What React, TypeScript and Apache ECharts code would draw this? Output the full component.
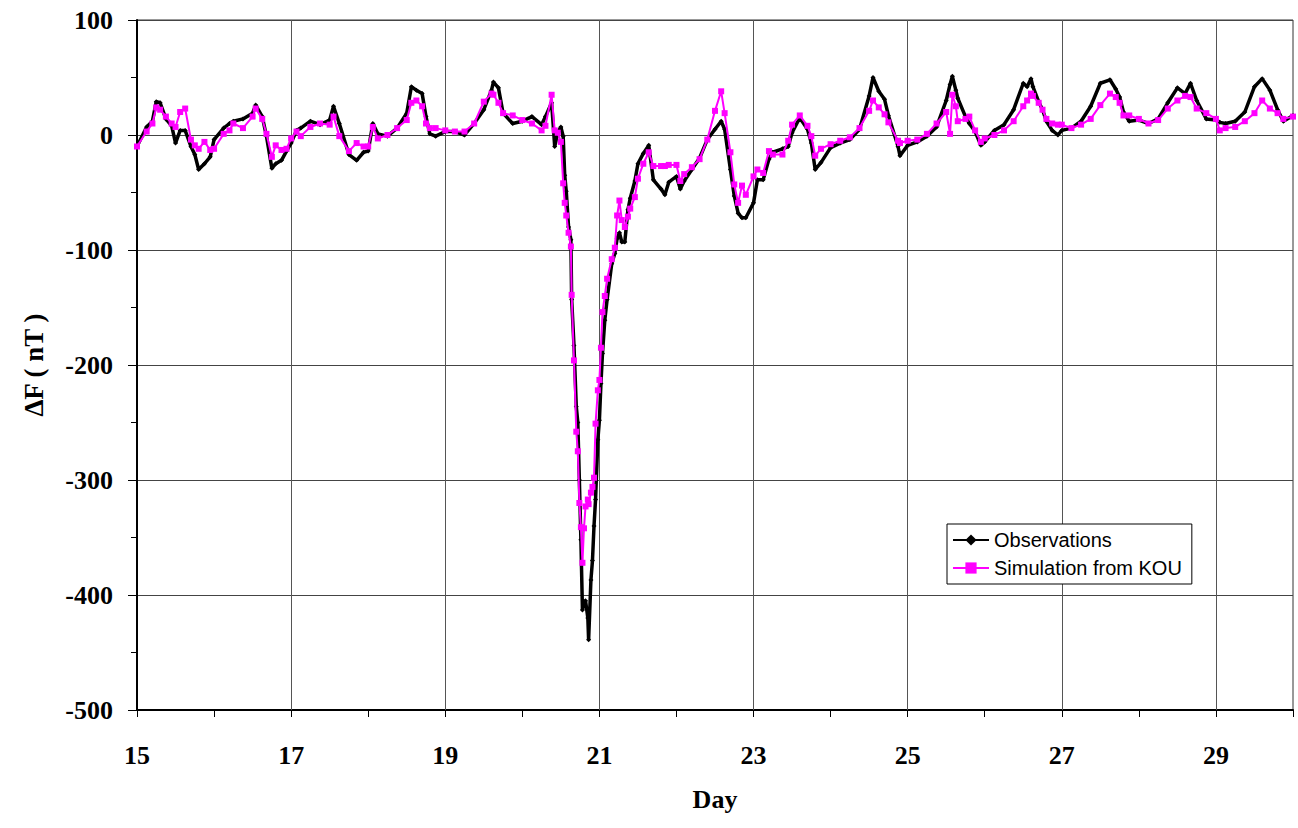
import React, { useEffect, useRef } from "react";
import * as echarts from "echarts";

// Day of month (sampling points)
const days = [
  15.0, 15.125, 15.2, 15.25, 15.3, 15.375, 15.45, 15.5, 15.56, 15.625, 15.7, 15.75, 15.8, 15.875, 15.95,
  16.0, 16.125, 16.2, 16.25, 16.375, 16.5, 16.54, 16.625, 16.68, 16.75, 16.8, 16.875, 16.94, 17.0,
  17.07, 17.125, 17.25, 17.375, 17.5, 17.55, 17.625, 17.75, 17.85, 17.94, 18.0, 18.06, 18.125, 18.25,
  18.375, 18.5, 18.56, 18.625, 18.7, 18.75, 18.8, 18.875, 19.0,
  19.125, 19.25, 19.375, 19.5, 19.6, 19.625, 19.69, 19.75, 19.875, 20.0, 20.125, 20.25, 20.3, 20.38,
  20.42, 20.46, 20.5, 20.53, 20.55, 20.57, 20.6, 20.63, 20.64, 20.67, 20.7, 20.72, 20.74, 20.76, 20.78,
  20.8, 20.82, 20.85, 20.86, 20.89, 20.91, 20.93, 20.95, 20.98, 21.0,
  21.02, 21.04, 21.07, 21.1, 21.16, 21.2, 21.23, 21.26, 21.29, 21.33, 21.37, 21.4, 21.46, 21.5, 21.57,
  21.64, 21.7, 21.8, 21.85, 21.9, 22.0, 22.05, 22.1, 22.2, 22.3, 22.4, 22.5, 22.58, 22.625, 22.7, 22.75,
  22.8, 22.85, 22.9, 23.0,
  23.05, 23.125, 23.2, 23.25, 23.375, 23.45, 23.5, 23.6, 23.7, 23.75, 23.8, 23.875, 24.0, 24.125, 24.25,
  24.375, 24.5, 24.55, 24.625, 24.7, 24.75, 24.875, 24.9, 25.0, 25.125, 25.25, 25.375, 25.5, 25.55, 25.58,
  25.625, 25.65, 25.75, 25.8, 25.875, 25.95, 26.0,
  26.125, 26.25, 26.375, 26.5, 26.55, 26.6, 26.625, 26.7, 26.75, 26.8, 26.875, 26.95, 27.0, 27.125, 27.25,
  27.375, 27.5, 27.625, 27.7, 27.75, 27.8, 27.875, 28.0, 28.125, 28.25, 28.375, 28.5, 28.6, 28.67, 28.75,
  28.875, 29.0, 29.05, 29.125, 29.25, 29.375, 29.5, 29.6, 29.7, 29.8, 29.875, 30.0,
];

// Observed ΔF (nT)
const observed = [
  -10, 7, 12, 29, 28, 14, 8, -7, 4, 4, -10, -17, -30, -25, -19,
  -4, 6, 10, 12, 14, 19, 26, 16, -1, -29, -25, -22, -14, -7,
  4, 6, 12, 9, 13, 25, 10, -17, -22, -15, -14, 10, 1, -1,
  6, 19, 42, 39, 36, 16, 1, -1, 3,
  3, 0, 10, 22, 39, 46, 41, 19, 10, 12, 16, 9, 16, 28,
  -10, 2, 7, -1, -35, -49, -80, -91, -143, -183, -236, -250, -300, -352, -413,
  -406, -405, -420, -439, -387, -370, -340, -317, -265, -248,
  -216, -190, -161, -143, -112, -103, -90, -85, -93, -93, -65, -55, -40, -25, -16,
  -9, -39, -47, -52, -41, -36, -47, -40, -30, -20, -4, 5, 12, 5, -30, -53,
  -68, -72, -72, -59,
  -39, -39, -21, -15, -12, -10, 2, 15, 5, -7, -30, -24, -11, -7, -4,
  5, 34, 50, 38, 31, 17, -10, -18, -9, -6, -1, 7, 30, 44, 51,
  39, 32, 16, 10, 3, -9, -6,
  4, 9, 22, 45, 42, 49, 42, 29, 22, 12, 4, 0, 4, 6, 12,
  25, 45, 48, 40, 33, 20, 12, 13, 10, 14, 28, 41, 36, 45, 30,
  14, 13, 11, 10, 12, 20, 42, 49, 39, 22, 12, 17,
];

// Simulated ΔF from KOU (nT)
const simulated = [
  -10, 3, 10, 24, 22, 16, 10, 7, 20, 23, -4, -9, -12, -6, -13,
  -12, 1, 4, 10, 6, 16, 23, 14, 1, -19, -9, -13, -12, -3,
  3, -1, 7, 10, 9, 16, -1, -14, -7, -10, -10, 7, -3, 0,
  6, 13, 28, 30, 25, 10, 6, 6, 4,
  3, 3, 10, 29, 36, 35, 28, 19, 17, 13, 10, 4, 8, 35,
  4, 2, -6, -42, -59, -70, -85, -97, -139, -196, -258, -275, -320, -341, -372,
  -342, -323, -317, -321, -311, -306, -298, -251, -222, -213,
  -185, -154, -140, -125, -108, -98, -70, -57, -74, -80, -71, -64, -54, -38, -25,
  -15, -27, -27, -27, -26, -26, -40, -34, -28, -21, -4, 21, 38, 19, -15, -43,
  -59, -44, -52, -36,
  -30, -33, -14, -17, -17, -5, 9, 17, 8, -1, -18, -12, -8, -5, -2,
  6, 21, 30, 24, 18, 11, -5, -7, -5, -4, 1, 10, 20, 1, 35,
  25, 12, 14, 16, 4, -6, -3,
  0, 4, 12, 25, 30, 36, 34, 28, 22, 14, 10, 9, 9, 6, 9,
  14, 26, 36, 33, 28, 17, 17, 14, 10, 13, 23, 30, 34, 33, 23,
  19, 14, 4, 6, 7, 12, 19, 30, 23, 19, 14, 16,
];

const gridDays = [17, 19, 21, 23, 25, 27, 29];

const SERIF = '"Liberation Serif", "Times New Roman", serif';
const SANS = '"Liberation Sans", Arial, sans-serif';

export default function App() {
  const ref = useRef<HTMLDivElement>(null);

  useEffect(() => {
    document.body.style.margin = "0";
    if (!ref.current) return;
    const chart = echarts.init(ref.current, null, { renderer: "svg" });
    const obsData = days.map((d, i) => [d, observed[i]]);
    const simData = days.map((d, i) => [d, simulated[i]]);

    chart.setOption({
      animation: false,
      backgroundColor: "#fff",
      grid: {
        left: 137,
        right: 5,
        top: 20,
        bottom: 118,
        containLabel: false,
        outerBoundsMode: "none",
        show: true,
        borderColor: "#333",
        borderWidth: 1,
        backgroundColor: "transparent",
      },
      legend: {
        data: ["Observations", "Simulation from KOU"],
        orient: "vertical",
        left: 947,
        top: 524,
        padding: [6, 10, 6, 5],
        itemWidth: 36,
        itemHeight: 14,
        itemGap: 8,
        borderColor: "#000",
        borderWidth: 1,
        backgroundColor: "#fff",
        textStyle: { fontFamily: SANS, fontSize: 20, color: "#000" },
      },
      xAxis: {
        type: "value",
        min: 15,
        max: 30,
        interval: 1,
        name: "Day",
        nameLocation: "middle",
        nameGap: 76,
        nameTextStyle: { fontFamily: SERIF, fontSize: 26, fontWeight: "bold", color: "#000" },
        axisLine: { show: true, onZero: false, lineStyle: { color: "#000", width: 2 } },
        axisTick: { show: true, inside: false, length: 7, lineStyle: { color: "#000", width: 1 } },
        axisLabel: {
          margin: 32,
          fontFamily: SERIF,
          fontSize: 26,
          fontWeight: "bold",
          color: "#000",
          formatter: (v: number) => (Math.round(v) % 2 === 1 ? String(v) : ""),
        },
        splitLine: { show: false },
      },
      yAxis: {
        type: "value",
        min: -500,
        max: 100,
        interval: 100,
        name: "ΔF ( nT )",
        nameLocation: "middle",
        nameGap: 90,
        nameRotate: 90,
        nameTextStyle: { fontFamily: SERIF, fontSize: 27, fontWeight: "bold", color: "#000" },
        axisLine: { show: true, onZero: false, lineStyle: { color: "#000", width: 2 } },
        axisTick: { show: true, inside: false, length: 9, lineStyle: { color: "#000", width: 1 } },
        minorTick: { show: true, splitNumber: 2, length: 6, lineStyle: { color: "#000", width: 1 } },
        axisLabel: {
          margin: 24,
          fontFamily: SERIF,
          fontSize: 26,
          fontWeight: "bold",
          color: "#000",
        },
        splitLine: { show: true, lineStyle: { color: "#444", width: 1 } },
      },
      series: [
        {
          name: "Observations",
          type: "line",
          data: obsData,
          z: 3,
          color: "#000",
          symbol: "diamond",
          symbolSize: 5,
          lineStyle: { color: "#000", width: 3.5 },
          itemStyle: { color: "#000" },
          markLine: {
            silent: true,
            z: 1,
            symbol: ["none", "none"],
            label: { show: false },
            lineStyle: { color: "#555", width: 1, type: "solid" },
            emphasis: { disabled: true },
            data: gridDays.map((d) => ({ xAxis: d })),
          },
        },
        {
          name: "Simulation from KOU",
          type: "line",
          data: simData,
          z: 4,
          color: "#FF00FF",
          symbol: "rect",
          symbolSize: 6,
          lineStyle: { color: "#FF00FF", width: 2 },
          itemStyle: { color: "#FF00FF" },
        },
      ],
    });

    return () => chart.dispose();
  }, []);

  return <div ref={ref} style={{ width: 1298, height: 828 }} />;
}
